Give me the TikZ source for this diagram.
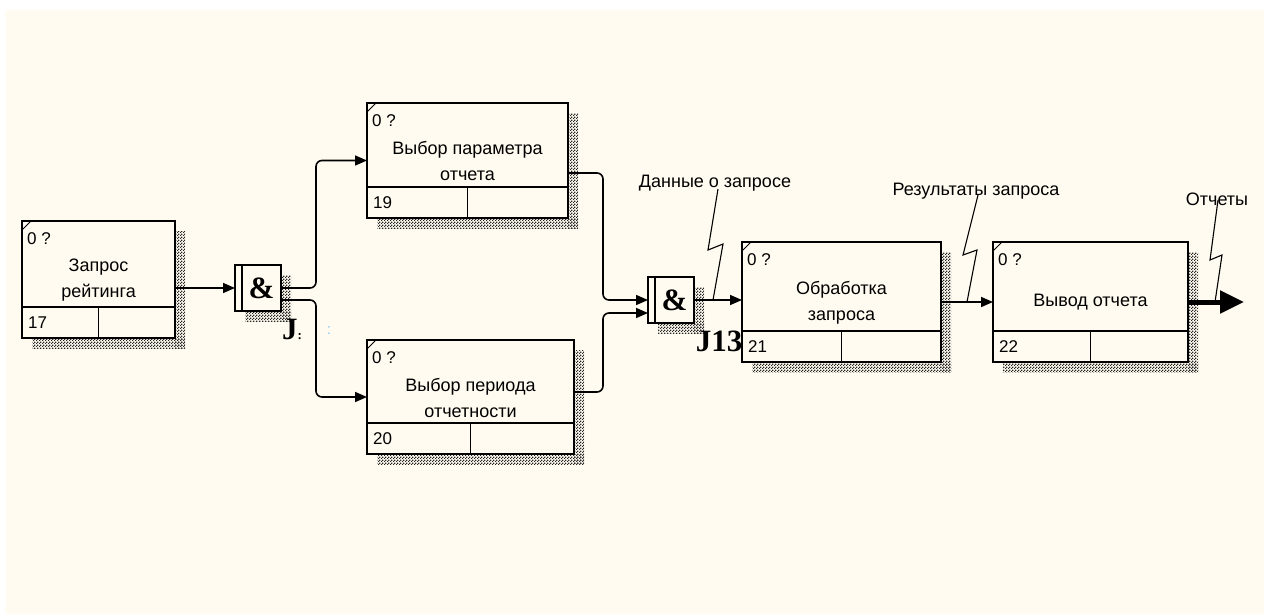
\documentclass[tikz,border=0pt]{standalone}
\usepackage{fontspec}
\setmainfont{Liberation Sans}
\newfontfamily\jserif{Liberation Serif}
\usetikzlibrary{arrows.meta,patterns}

\definecolor{paper}{RGB}{255,251,240}
\definecolor{faintblue}{RGB}{150,200,235}

% fine checkerboard used for the drop shadows
\pgfdeclarepatternformonly{checks}{\pgfpoint{0pt}{0pt}}{\pgfpoint{3pt}{3pt}}{\pgfpoint{3pt}{3pt}}{%
  \pgfpathrectangle{\pgfpoint{0pt}{0pt}}{\pgfpoint{1.5pt}{1.5pt}}%
  \pgfpathrectangle{\pgfpoint{1.5pt}{1.5pt}}{\pgfpoint{1.5pt}{1.5pt}}%
  \pgfusepath{fill}}

\tikzset{
  abox/.style={rectangle, draw=black, line width=1.8pt, fill=paper, inner sep=0pt, outer sep=0pt},
  ttl/.style={font=\fontsize{18}{26}\selectfont, align=center, inner sep=0pt},
  smalltxt/.style={font=\fontsize{17}{20}\selectfont, inner sep=0pt},
  ampfont/.style={font=\jserif\bfseries\fontsize{31}{34}\selectfont, inner sep=0pt},
  conn/.style={line width=1.6pt, rounded corners=6pt, -{Triangle[length=12pt,width=10pt]}},
  shadowfill/.style={pattern=checks, pattern color=black!85},
  squig/.style={line width=1.1pt},
  lbl/.style={font=\fontsize{18}{22}\selectfont, inner sep=0pt},
  divider/.style={line width=1.8pt},
}

% activity box: name, x, y, width, height, title, number
\newcommand\idefbox[7]{%
  \fill[shadowfill] ({#2+#4},{#3+10}) rectangle ({#2+#4+10},{#3+#5+10});
  \fill[shadowfill] ({#2+10},{#3+#5}) rectangle ({#2+#4+10},{#3+#5+10});
  \node[abox, minimum width=#4pt, minimum height=#5pt, anchor=north west] (#1) at (#2,#3) {};
  \draw[divider] ([yshift=31pt]#1.south west) -- ([yshift=31pt]#1.south east);
  \draw[divider] (#1.south) -- ([yshift=31pt]#1.south);
  \draw[line width=0.8pt] ([yshift=-9pt]#1.north west) -- ([xshift=9pt]#1.north west);
  \node[smalltxt, anchor=west] (#1-id) at ({#2+5},{#3+18}) {0 ?};
  \node[smalltxt, anchor=west] (#1-num) at ({#2+6},{#3+#5-15}) {#7};
  \node[ttl] (#1-t) at ({#2+#4/2},{#3+(#5-31)/2+16}) {#6};
}

% junction box: name, x, y
\newcommand\andjunction[3]{%
  \fill[shadowfill] ({#2+46},{#3+10}) rectangle ({#2+56},{#3+56});
  \fill[shadowfill] ({#2+10},{#3+46}) rectangle ({#2+56},{#3+56});
  \node[abox, line width=1.6pt, minimum width=46pt, minimum height=46pt, anchor=north west] (#1) at (#2,#3) {};
  \draw[line width=1.4pt] ([xshift=7pt]#1.north west) -- ([xshift=7pt]#1.south west);
  \node[ampfont] (#1-amp) at ({#2+26.5},{#3+23}) {\&};
}

\begin{document}
\begin{tikzpicture}[x=1pt, y=-1pt]
  \useasboundingbox (0,0) rectangle (1264,614);
  \fill[white] (0,0) rectangle (1264,614);
  \fill[paper] (6,10) rectangle (1264,614);

  % activities
  \idefbox{b17}{22}{221}{153}{117}{Запрос\\рейтинга}{17}
  \idefbox{b19}{367}{103}{201}{115}{Выбор параметра\\отчета}{19}
  \idefbox{b20}{367}{340}{207}{114}{Выбор периода\\отчетности}{20}
  \idefbox{b21}{742}{242}{199}{120}{Обработка\\запроса}{21}
  \idefbox{b22}{993}{242}{195}{120}{Вывод отчета}{22}

  % junctions
  \andjunction{j1}{235}{265}
  \andjunction{j2}{648}{277}

  \node[ampfont] (j1-lbl) at (292,329) {J\fontsize{13}{13}\selectfont :};
  \node[font=\fontsize{15}{15}\selectfont, text=faintblue, inner sep=0pt] (j1-mark) at (329,331) {:};
  \node[ampfont] (j2-lbl) at (719,341) {J13};

  % connectors
  \draw[conn] (b17.east |- j1.west) -- (j1.west);
  \draw[conn] (j1.east) -- ++(35,0) |- (b19.west);
  \draw[conn] ([yshift=-12pt]j1.east) -- ++(35,0) |- (b20.west);
  \draw[conn] ([yshift=-12.5pt]b19.east) -- ++(35,0) |- (j2.west);
  \draw[conn] ([yshift=5pt]b20.east) -- ++(29,0) |- ([yshift=-13pt]j2.west);
  \draw[conn] (j2.east) -- (b21.west |- j2.east);
  \draw[conn] (b21.east) -- (b22.west);
  \coordinate (out22) at (1244,302);
  \draw[line width=5pt, -{Triangle[length=24pt,width=22pt]}] (b22.east) -- (out22);

  % arrow labels with squiggles
  \node[lbl, anchor=south] (l1) at (715,191) {Данные о запросе};
  \coordinate (p1) at (713,300);
  \draw[squig] ([xshift=3pt,yshift=2pt]l1.south) -- (708,250) -- (723,244) -- (p1);

  \node[lbl, anchor=south] (l2) at (976,199) {Результаты запроса};
  \coordinate (p2) at (967,302);
  \draw[squig] ([xshift=2pt,yshift=4pt]l2.south) -- (963,255) -- (977,250) -- (p2);

  \node[lbl, anchor=south] (l3) at (1217,206) {Отчеты};
  \coordinate (p3) at (1215,302);
  \draw[squig] ([xshift=1pt,yshift=6pt]l3.south) -- (1210,260) -- (1222,255) -- (p3);
\end{tikzpicture}
\end{document}
